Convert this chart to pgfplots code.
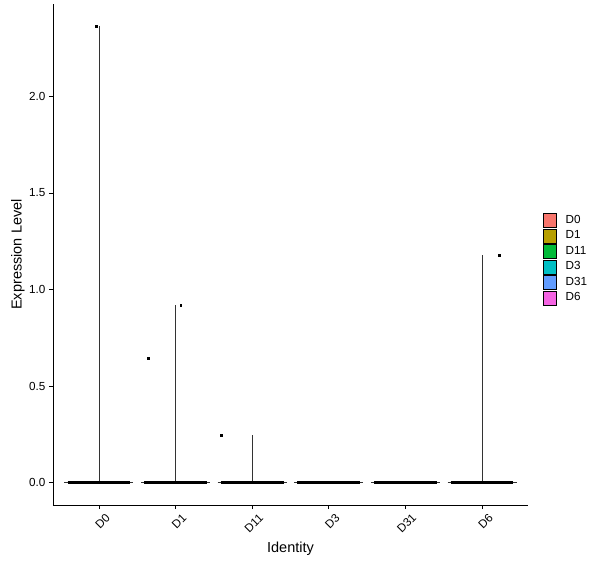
\documentclass[border=0pt]{standalone}
\usepackage{fontspec}
\setmainfont{Liberation Sans}
\usepackage{pgfplots}
\pgfplotsset{compat=1.18}

\definecolor{cD0}{HTML}{F8766D}
\definecolor{cD1}{HTML}{B79F00}
\definecolor{cD11}{HTML}{00BA38}
\definecolor{cD3}{HTML}{00BFC4}
\definecolor{cD31}{HTML}{619CFF}
\definecolor{cD6}{HTML}{F564E3}

\begin{document}
\begin{tikzpicture}
\useasboundingbox (-53pt,-63pt) rectangle (547pt,505pt);
\begin{axis}[
    at={(0pt,0pt)}, anchor=south west,
    scale only axis,
    width=475pt, height=501pt,
    xmin=0.4, xmax=6.6,
    ymin=-0.1166, ymax=2.479,
    axis lines*=left,
    axis line style={line width=0.8pt},
    xtick={1,2,3,4,5,6},
    xticklabels={D0,D1,D11,D3,D31,D6},
    ytick={0,0.5,1,1.5,2},
    yticklabel style={/pgf/number format/.cd, fixed, fixed zerofill, precision=1},
    /pgf/number format/assume math mode=true,
    tick align=outside,
    major tick length=4pt,
    tick style={black, line width=0.8pt},
    ticklabel style={font=\fontsize{11.7}{13}\selectfont},
    xticklabel style={rotate=45, anchor=east, xshift=5pt, yshift=-11pt},
    xlabel={Identity},
    ylabel={Expression Level},
    label style={font=\fontsize{14.5}{16}\selectfont},
    xlabel style={at={(axis description cs:0.5,-0.0868)}, anchor=center},
    ylabel style={at={(axis description cs:-0.0737,0.5)}, anchor=center},
    legend image code/.code={\draw[#1] (0pt,-7pt) rectangle (13pt,7pt);},
    legend style={at={(axis description cs:1.0316,0.5828)}, anchor=north west,
        draw=none, fill=none, font=\fontsize{11.7}{13}\selectfont,
        row sep=1pt, inner sep=0pt,
        nodes={inner sep=0pt, text height=10pt, text depth=4pt},
        /tikz/every even column/.append style={column sep=0pt}},
    legend cell align=left,
    clip=false,
]
\addlegendimage{fill=cD0, draw=black, line width=0.5pt}
\addlegendentry{\hspace{9pt}D0}
\addlegendimage{fill=cD1, draw=black, line width=0.5pt}
\addlegendentry{\hspace{9pt}D1}
\addlegendimage{fill=cD11, draw=black, line width=0.5pt}
\addlegendentry{\hspace{9pt}D11}
\addlegendimage{fill=cD3, draw=black, line width=0.5pt}
\addlegendentry{\hspace{9pt}D3}
\addlegendimage{fill=cD31, draw=black, line width=0.5pt}
\addlegendentry{\hspace{9pt}D31}
\addlegendimage{fill=cD6, draw=black, line width=0.5pt}
\addlegendentry{\hspace{9pt}D6}

% violin outlines (flat at zero) and thin tails to the maxima
\pgfplotsset{vline/.style={draw=black!80, line width=0.8pt, forget plot},
             flat/.style={draw=black!80, line width=0.6pt, forget plot},
             jit/.style={draw=black, line width=3pt, forget plot}}
\addplot[flat] coordinates {(0.55,0)(1.45,0)};
\addplot[flat] coordinates {(1.55,0)(2.45,0)};
\addplot[flat] coordinates {(2.55,0)(3.45,0)};
\addplot[flat] coordinates {(3.55,0)(4.45,0)};
\addplot[flat] coordinates {(4.55,0)(5.45,0)};
\addplot[flat] coordinates {(5.55,0)(6.45,0)};
\addplot[vline] coordinates {(1,0)(1,2.365)};
\addplot[vline] coordinates {(2,0)(2,0.920)};
\addplot[vline] coordinates {(3,0)(3,0.246)};
\addplot[vline] coordinates {(6,0)(6,1.179)};

% jittered zero points (dense enough to form a solid bar)
\addplot[jit] coordinates {(0.59,0)(1.41,0)};
\addplot[jit] coordinates {(1.59,0)(2.41,0)};
\addplot[jit] coordinates {(2.59,0)(3.41,0)};
\addplot[jit] coordinates {(3.59,0)(4.41,0)};
\addplot[jit] coordinates {(4.59,0)(5.41,0)};
\addplot[jit] coordinates {(5.59,0)(6.41,0)};

% non-zero points
\addplot[only marks, mark=square*, mark size=0.9pt, black, forget plot]
    coordinates {(0.96,2.365)(2.068,0.920)(1.638,0.645)(2.60,0.246)(6.22,1.179)};
\end{axis}
\end{tikzpicture}
\end{document}
